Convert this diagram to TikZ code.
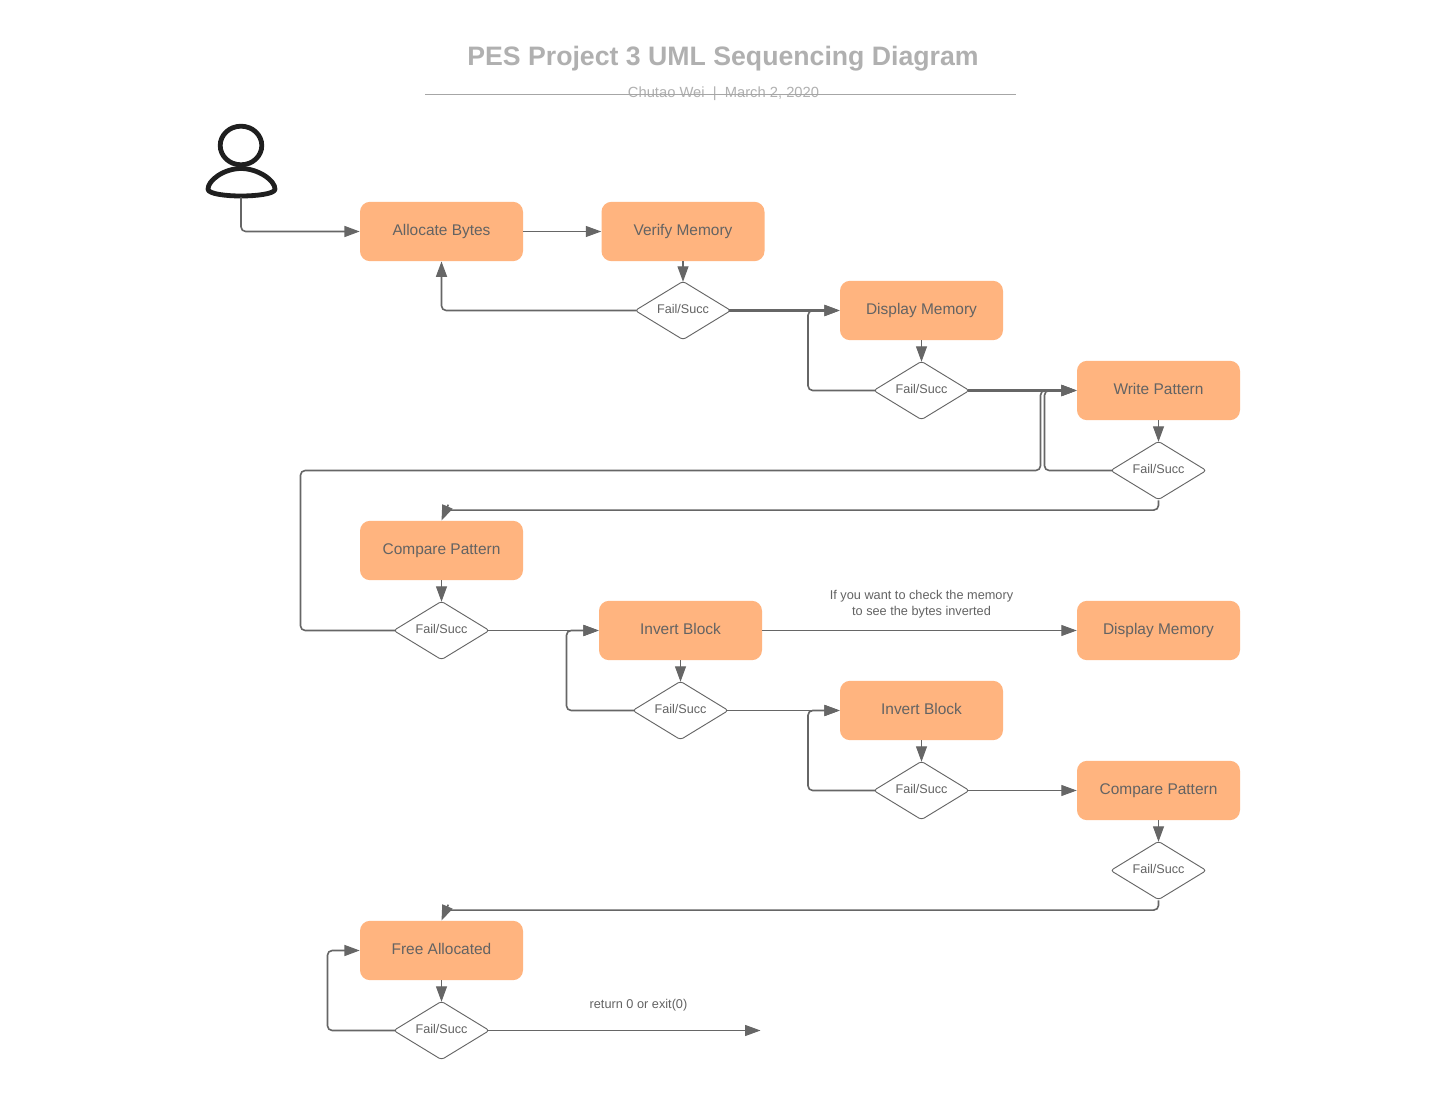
\documentclass[tikz,border=0pt]{standalone}
\usepackage{fontspec}
\setmainfont{Liberation Sans}
\usetikzlibrary{arrows.meta,shapes.geometric,calc}
\definecolor{linegray}{HTML}{666666}
\definecolor{boxfill}{HTML}{FFB47F}
\definecolor{boxtext}{HTML}{636363}
\definecolor{titlegray}{HTML}{B0B0B0}
\definecolor{rulegray}{HTML}{A6A6A6}
\tikzset{
  procbox/.style={rectangle,rounded corners=7.5pt,fill=boxfill,minimum width=122.25pt,minimum height=44.5pt,inner sep=0pt,text=boxtext,text height=8pt,text depth=2.2pt,font=\fontsize{11.6}{13}\selectfont},
  decision/.style={diamond,aspect=1.64,draw=linegray,line width=0.7pt,rounded corners=2.2pt,fill=white,minimum width=72pt,minimum height=44pt,inner sep=0pt,text=boxtext,text height=6.5pt,text depth=2.5pt,font=\fontsize{9.45}{11}\selectfont},
  conn/.style={draw=linegray,line width=1.2pt,rounded corners=3.5pt,-{Triangle[length=11.5pt,width=8.2pt]}},
  thin conn/.style={conn,line width=0.8pt},
  bold conn/.style={conn,line width=1.55pt},
  from diamond/.style={shorten <=-1.5pt},
  into diamond/.style={shorten >=-0.8pt},
  note/.style={text=boxtext,font=\fontsize{9.55}{12}\selectfont,align=center,inner sep=0pt},
}
\begin{document}
\begin{tikzpicture}[x=0.75pt,y=-0.75pt]
\useasboundingbox[fill=white] (0,0) rectangle (1440,1116);
\begin{scope}[yshift=-0.375pt]

% title
\node[text=titlegray,font=\bfseries\fontsize{20}{24}\selectfont,inner sep=0pt] (title) at (723,58.5) {PES Project 3 UML Sequencing Diagram};
\node[text=titlegray,font=\fontsize{11.05}{13}\selectfont,inner sep=0pt] (subtitle) at (723.5,93.5) {Chutao Wei\ \ |\ \ March 2, 2020};
\coordinate (ruleL) at (425,94);
\coordinate (ruleR) at (1016,94);
\draw[rulegray,line width=0.7pt] (ruleL) -- (ruleR);

% user icon
\draw[color=black!88,line width=3.6pt] (241,145) ellipse (20.8 and 19.3);
\draw[color=black!88,line width=3.6pt,fill=white,line join=round]
  (241,168) .. controls (224,168) and (207.5,180) .. (208,189)
  .. controls (209,193.5) and (226,195.5) .. (241,195.5)
  .. controls (256,195.5) and (274,193.5) .. (275,189)
  .. controls (275.5,180) and (258,168) .. (241,168) -- cycle;
\coordinate (user) at (241,197);

% process boxes
\node[procbox] (alloc)  at (441.5,231) {Allocate Bytes};
\node[procbox] (verify) at (683,231) {Verify Memory};
\node[procbox] (disp)   at (921.5,310) {Display Memory};
\node[procbox] (write)  at (1158.5,390) {Write Pattern};
\node[procbox] (cmp)    at (441.5,550) {Compare Pattern};
\node[procbox] (inv)    at (680.5,630) {Invert Block};
\node[procbox] (dispb)  at (1158.5,630) {Display Memory};
\node[procbox] (invb)   at (921.5,710) {Invert Block};
\node[procbox] (cmpb)   at (1158.5,790) {Compare Pattern};
\node[procbox] (free)   at (441.5,950) {Free Allocated};

% decisions
\node[decision] (d1) at (683,310) {Fail/Succ};
\node[decision] (d2) at (921.5,390) {Fail/Succ};
\node[decision] (d3) at (1158.5,470) {Fail/Succ};
\node[decision] (d4) at (441.5,630) {Fail/Succ};
\node[decision] (d5) at (680.5,710) {Fail/Succ};
\node[decision] (d6) at (921.5,790) {Fail/Succ};
\node[decision] (d7) at (1158.5,870) {Fail/Succ};
\node[decision] (d8) at (441.5,1030) {Fail/Succ};

% labels
\node[note] (lab1) at (921.5,603.5) {If you want to check the memory\\to see the bytes inverted};
\node[note] (lab2) at (638.5,1004.5) {return 0 or exit(0)};
\coordinate (endpt) at (760.5,1030);

% connectors
\draw[conn] (user) |- (alloc.west);
\draw[thin conn] (alloc.east) -- (verify.west);
\draw[thin conn,into diamond] (verify.south) -- (d1.north);
\draw[conn,from diamond] (d1.west) -| (alloc.south);
\draw[bold conn,from diamond] (d1.east) -- (disp.west);
\draw[thin conn,into diamond] (disp.south) -- (d2.north);
\draw[conn,from diamond] (d2.west) -- ++(-65,0) |- (disp.west);
\draw[bold conn,from diamond] (d2.east) -- (write.west);
\draw[thin conn,into diamond] (write.south) -- (d3.north);
\draw[conn,from diamond] (d3.west) -- (1044.5,470) |- (write.west);
\draw[conn,from diamond] (d4.west) -- (300.5,630) |- (1040.5,470) |- (write.west);
\draw[conn,from diamond] (d3.south) |- ($(cmp.north)+(7,-10.5)$) ($(cmp.north)+(6,-14.1)$) -- (cmp.north);
\draw[thin conn,into diamond] (cmp.south) -- (d4.north);
\draw[thin conn,from diamond] (d4.east) -- (inv.west);
\draw[thin conn,into diamond] (inv.south) -- (d5.north);
\draw[conn,from diamond] (d5.west) -- (566.5,710) |- (inv.west);
\draw[thin conn] (inv.east) -- (dispb.west);
\draw[thin conn,from diamond] (d5.east) -- (invb.west);
\draw[thin conn,into diamond] (invb.south) -- (d6.north);
\draw[conn,from diamond] (d6.west) -- (808,790) |- (invb.west);
\draw[thin conn,from diamond] (d6.east) -- (cmpb.west);
\draw[thin conn,into diamond] (cmpb.south) -- (d7.north);
\draw[conn,from diamond] (d7.south) |- ($(free.north)+(7,-10.5)$) ($(free.north)+(6,-14.1)$) -- (free.north);
\draw[thin conn,into diamond] (free.south) -- (d8.north);
\draw[conn,from diamond] (d8.west) -- (327.5,1030) |- (free.west);
\draw[thin conn,from diamond] (d8.east) -- (endpt);
\end{scope}
\end{tikzpicture}
\end{document}
